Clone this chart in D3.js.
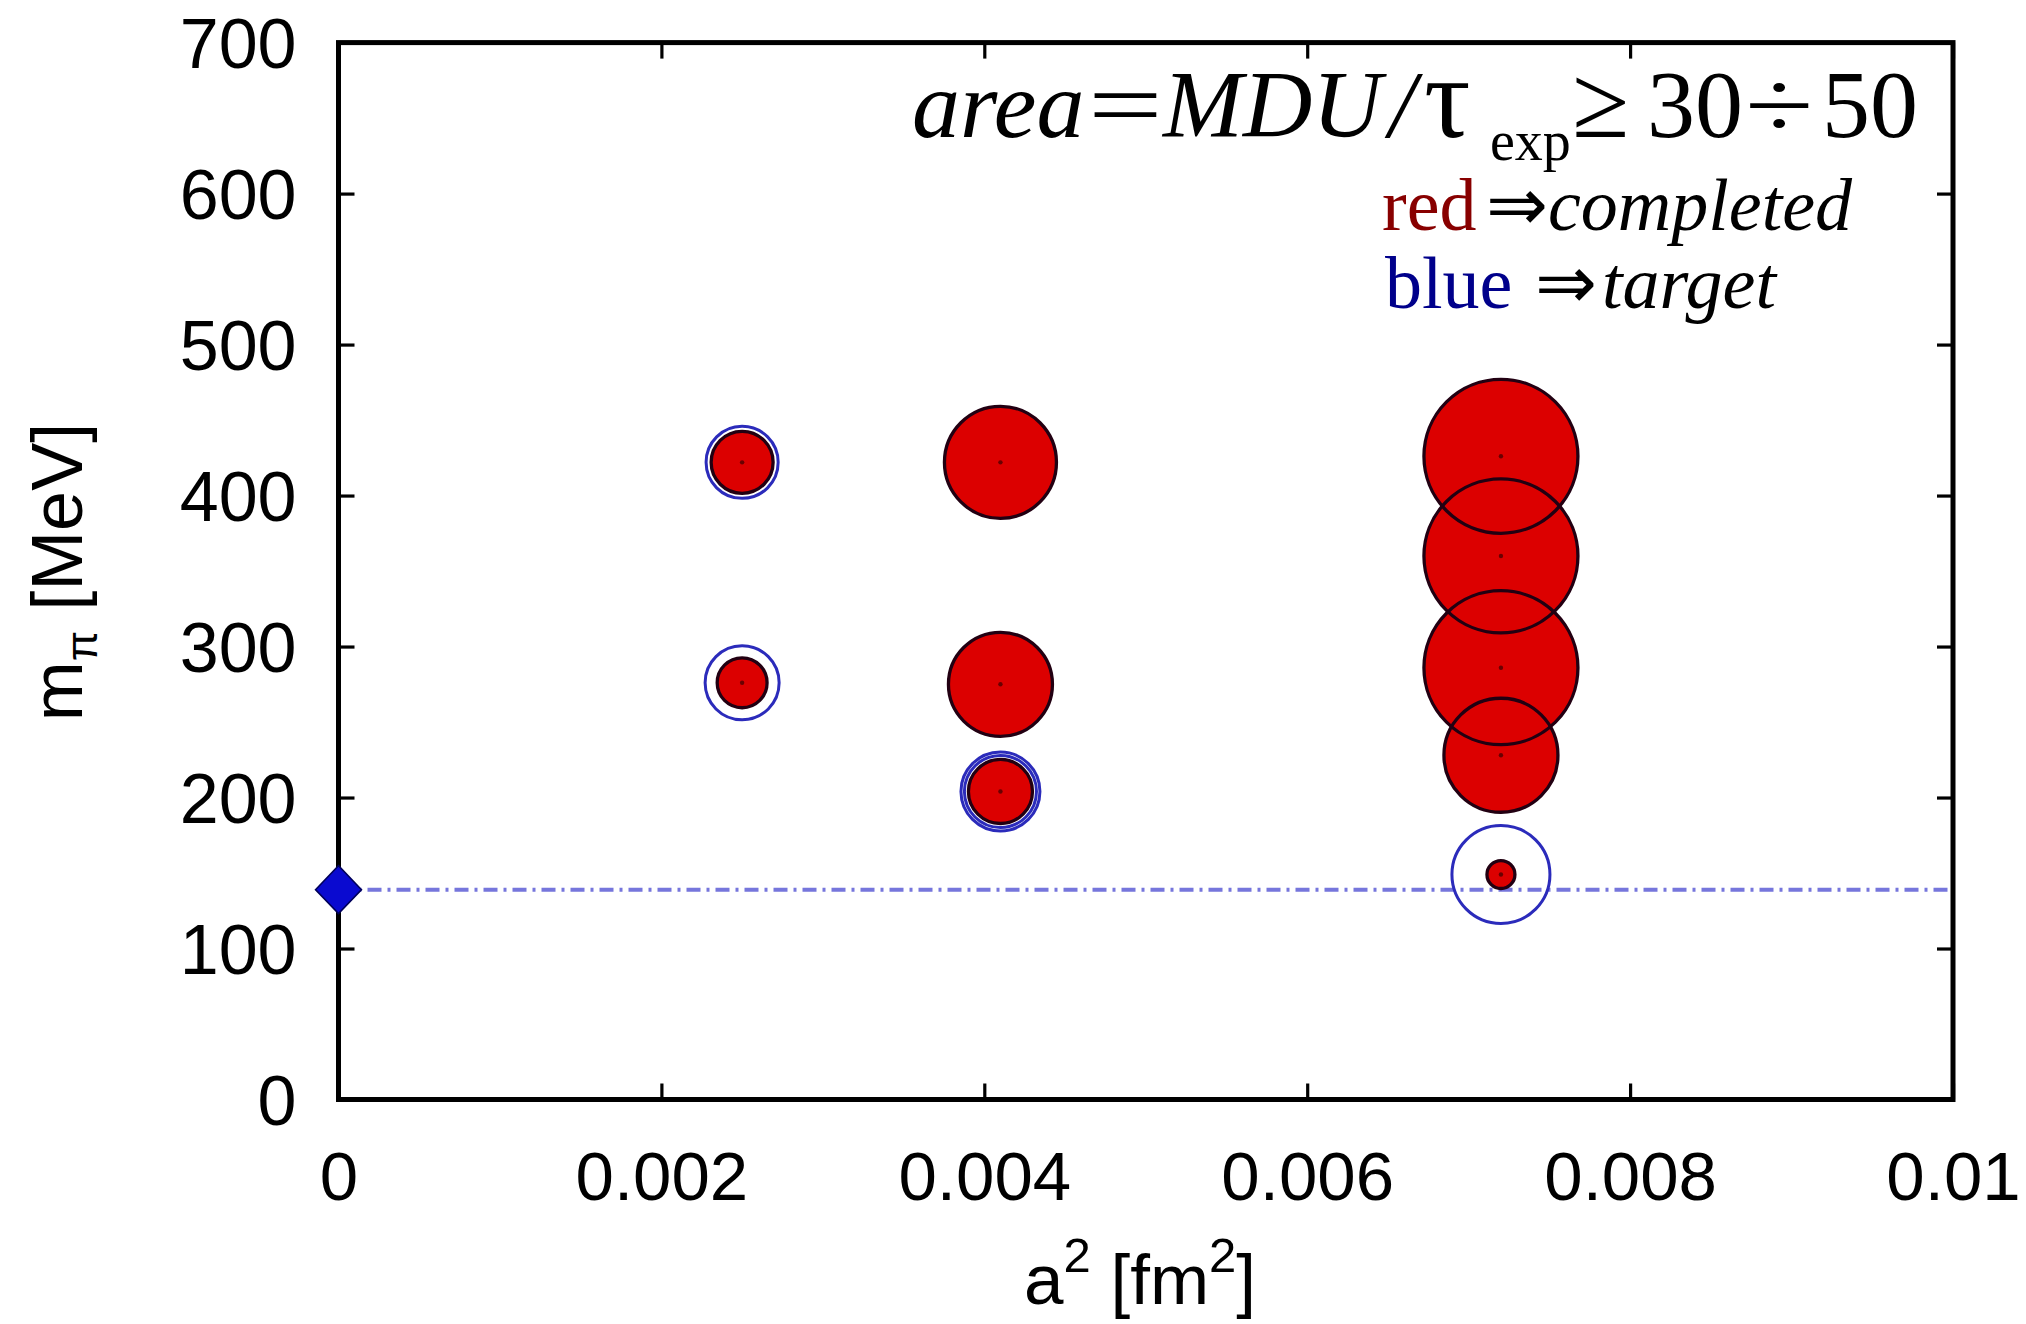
<!DOCTYPE html>
<html>
<head>
<meta charset="utf-8">
<script src="https://cdn.jsdelivr.net/npm/d3@7"></script>
<style>
  html, body { margin: 0; padding: 0; background: #fff; }
  svg { display: block; }
</style>
</head>
<body>
<div id="chart"></div>
<script>
// ensembles: lattice spacing squared, pion mass and completed statistics (area ~ MDU/tau_exp)
var a2 = [0.0025, 0.0025, 0.0041, 0.0041, 0.0041, 0.0072, 0.0072, 0.0072, 0.0072, 0.0072];
var mpi = [422, 276, 422, 275, 204, 426, 360, 286, 228, 149];
var completedArea = [162, 105, 529, 456, 173, 1000, 1000, 1000, 548, 33];

// target statistics (blue rings)
var targetA2 = [0.0025, 0.0025, 0.0041, 0.0041, 0.0072];
var targetMpi = [422, 276, 204, 204, 149];
var targetArea = [219, 231, 219, 263, 405];

// physical pion mass
var physA2 = [0];
var physMpi = [139];

var xTicks = [0, 0.002, 0.004, 0.006, 0.008, 0.01];
var yTicks = [0, 100, 200, 300, 400, 500, 600, 700];

var W = 2026, H = 1324;
var plotL = 338.5, plotR = 1953, plotT = 42.6, plotB = 1099.5;

var svg = d3.select("#chart").append("svg")
    .attr("width", W)
    .attr("height", H);

var x = d3.scaleLinear().domain([0, 0.01]).range([plotL, plotR]);
var y = d3.scaleLinear().domain([0, 700]).range([plotB, plotT]);
var r = d3.scaleSqrt().domain([0, 1000]).range([0, 77]);

var tickFont = "'Liberation Sans', Arial, Helvetica, sans-serif";
var fmtX = function(d) { return d === 0 ? "0" : String(+d.toFixed(3)); };

// bottom axis with labels, ticks pointing inward
var gx = svg.append("g")
    .attr("transform", "translate(0," + plotB + ")")
    .call(d3.axisBottom(x).tickValues(xTicks).tickSizeInner(-16).tickSizeOuter(0).tickFormat(fmtX));
gx.selectAll("text")
    .attr("y", 100).attr("dy", null)
    .style("font-family", tickFont).style("font-size", "69px").attr("fill", "#000");

var gy = svg.append("g")
    .attr("transform", "translate(" + plotL + ",0)")
    .call(d3.axisLeft(y).tickValues(yTicks).tickSizeInner(-16).tickSizeOuter(0));
gy.selectAll("text")
    .attr("x", -42).attr("dy", "0.36em")
    .style("font-family", tickFont).style("font-size", "70px").attr("fill", "#000");

// mirrored ticks on top and right
svg.append("g")
    .attr("transform", "translate(0," + plotT + ")")
    .call(d3.axisTop(x).tickValues(xTicks).tickSizeInner(-16).tickSizeOuter(0).tickFormat(""));
svg.append("g")
    .attr("transform", "translate(" + plotR + ",0)")
    .call(d3.axisRight(y).tickValues(yTicks).tickSizeInner(-16).tickSizeOuter(0).tickFormat(""));

svg.selectAll(".domain").remove();
svg.selectAll(".tick line").attr("stroke", "#000").attr("stroke-width", 3.2);

// frame
svg.append("rect")
    .attr("x", plotL).attr("y", plotT)
    .attr("width", plotR - plotL).attr("height", plotB - plotT)
    .attr("fill", "none").attr("stroke", "#000").attr("stroke-width", 5);

// physical point line
svg.append("line")
    .attr("x1", x(0)).attr("x2", x(0.01))
    .attr("y1", y(physMpi[0])).attr("y2", y(physMpi[0]))
    .attr("stroke", "#7676dc").attr("stroke-width", 4)
    .attr("stroke-dasharray", "14,6,3,6");

var pts = a2.map(function(d, i) { return {a2: d, m: mpi[i], area: completedArea[i]}; });
var tgs = targetA2.map(function(d, i) { return {a2: d, m: targetMpi[i], area: targetArea[i]}; });

// red fills first, outlines afterwards so overlapping edges show
svg.append("g").selectAll("circle")
    .data(pts).enter().append("circle")
    .attr("cx", function(d) { return x(d.a2); })
    .attr("cy", function(d) { return y(d.m); })
    .attr("r", function(d) { return r(d.area); })
    .attr("fill", "#dc0000");

svg.append("g").selectAll("circle")
    .data(pts).enter().append("circle")
    .attr("cx", function(d) { return x(d.a2); })
    .attr("cy", function(d) { return y(d.m); })
    .attr("r", function(d) { return r(d.area); })
    .attr("fill", "none").attr("stroke", "#220012").attr("stroke-width", 3.3);

svg.append("g").selectAll("circle")
    .data(pts).enter().append("circle")
    .attr("cx", function(d) { return x(d.a2); })
    .attr("cy", function(d) { return y(d.m); })
    .attr("r", 2.2)
    .attr("fill", "#6a0000");

svg.append("g").selectAll("circle")
    .data(tgs).enter().append("circle")
    .attr("cx", function(d) { return x(d.a2); })
    .attr("cy", function(d) { return y(d.m); })
    .attr("r", function(d) { return r(d.area); })
    .attr("fill", "none").attr("stroke", "#2b2bbb").attr("stroke-width", 3);

// physical point diamond
svg.append("g").selectAll("path")
    .data(physA2).enter().append("path")
    .attr("transform", function(d, i) { return "translate(" + x(d) + "," + y(physMpi[i]) + ")"; })
    .attr("d", "M0,-24L23,0L0,24L-23,0Z")
    .attr("fill", "#0a0ad0").attr("stroke", "#00005a").attr("stroke-width", 1.5);

// axis titles
var yt = svg.append("text")
    .attr("transform", "translate(82,572) rotate(-90)")
    .attr("text-anchor", "middle")
    .style("font-family", tickFont).style("font-size", "72px");
yt.append("tspan").text("m");
yt.append("tspan").attr("dy", 15).style("font-size", "44px").text("\u03c0");
yt.append("tspan").attr("dy", -15).text(" [MeV]");

var xt = svg.append("text")
    .attr("x", 1140).attr("y", 1304)
    .attr("text-anchor", "middle")
    .style("font-family", tickFont).style("font-size", "71px");
xt.append("tspan").text("a");
xt.append("tspan").attr("dy", -32).style("font-size", "49px").text("2");
xt.append("tspan").attr("dy", 32).text(" [fm");
xt.append("tspan").attr("dy", -32).style("font-size", "49px").text("2");
xt.append("tspan").attr("dy", 32).text("]");

// annotation
var serif = "'Liberation Serif', 'Times New Roman', serif";
var ann = svg.append("text")
    .attr("y", 137)
    .style("font-family", serif).style("font-size", "96px").attr("fill", "#000");
ann.append("tspan").attr("x", 912).style("font-style", "italic").text("area");
ann.append("tspan").attr("x", 1163).style("font-style", "italic").text("MDU");
ann.append("tspan").attr("x", 1389).style("font-style", "italic").text("/");
ann.append("tspan").attr("x", 1424).style("font-size", "116px").text("\u03c4");
ann.append("tspan").attr("x", 1490).attr("y", 160).style("font-size", "56px").text("exp");
ann.append("tspan").attr("x", 1572).attr("y", 137).style("font-size", "104px").text("\u2265");
ann.append("tspan").attr("x", 1647).text("30");
ann.append("tspan").attr("x", 1822).text("50");

// wide operators, stretched horizontally to match the equation editor look
svg.append("text")
    .attr("transform", "translate(1088,137) scale(1.38,1)")
    .style("font-family", serif).style("font-size", "96px").text("=");
svg.append("text")
    .attr("transform", "translate(1745,137) scale(1.3,1)")
    .style("font-family", serif).style("font-size", "96px").text("\u00f7");

var l1 = svg.append("text").attr("y", 230)
    .style("font-family", serif).style("font-size", "74px");
l1.append("tspan").attr("x", 1382).attr("fill", "#880000").text("red");
l1.append("tspan").attr("x", 1486).text("\u21d2");
l1.append("tspan").attr("x", 1548).style("font-style", "italic").text("completed");

var l2 = svg.append("text").attr("y", 308)
    .style("font-family", serif).style("font-size", "74px");
l2.append("tspan").attr("x", 1385).attr("fill", "#00008b").text("blue");
l2.append("tspan").attr("x", 1535).text("\u21d2");
l2.append("tspan").attr("x", 1602).style("font-style", "italic").text("target");
</script>
</body>
</html>
